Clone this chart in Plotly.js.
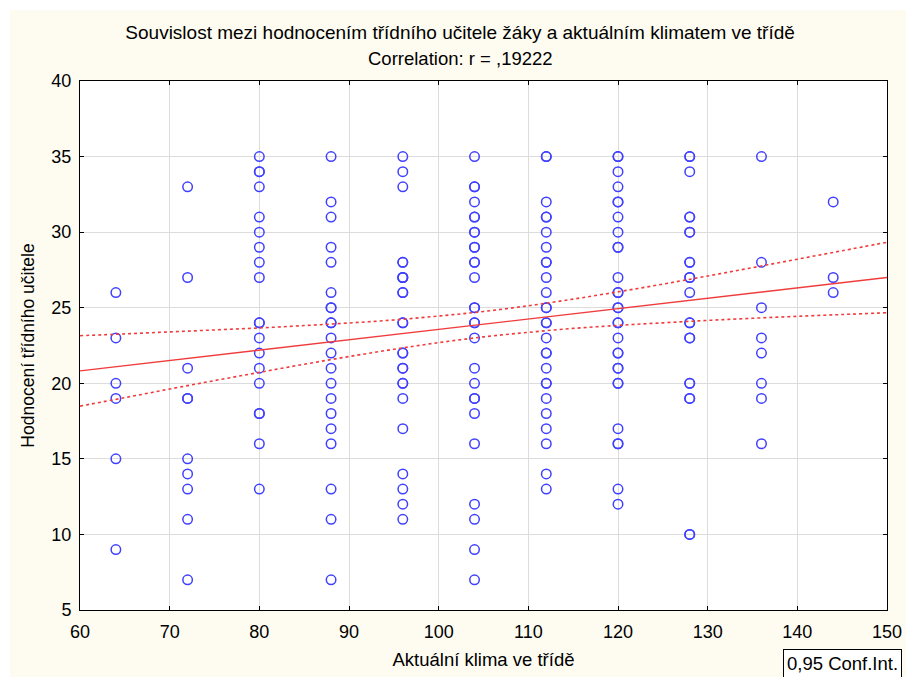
<!DOCTYPE html>
<html>
<head>
<meta charset="utf-8">
<script src="https://cdn.plot.ly/plotly-3.0.1.min.js"></script>
<style>
html,body{margin:0;padding:0;background:#ffffff;width:906px;height:677px;overflow:hidden;}
#chart{position:absolute;left:10px;top:10px;width:896px;height:667px;}
</style>
</head>
<body>
<div id="chart"></div>
<script>
// Column x positions (Aktuální klima ve třídě)
var climateLevels = [64, 72, 80, 88, 96, 104, 112, 120, 128, 136, 144];
// Teacher rating values per column (duplicates overlap in the picture)
var rating64  = [26, 23, 20, 19, 15, 9];
var rating72  = [33, 27, 21, 19, 19, 15, 14, 13, 11, 7];
var rating80  = [35, 34, 34, 33, 31, 30, 29, 28, 27, 24, 24, 23, 22, 21, 20, 18, 18, 16, 13];
var rating88  = [35, 32, 31, 29, 28, 26, 25, 25, 24, 24, 23, 22, 21, 20, 19, 18, 17, 16, 13, 11, 7];
var rating96  = [35, 34, 33, 28, 28, 27, 27, 27, 26, 26, 24, 24, 22, 22, 21, 21, 20, 20, 19, 17, 14, 13, 12, 11];
var rating104 = [35, 33, 33, 32, 31, 31, 30, 30, 29, 29, 28, 28, 27, 25, 25, 24, 24, 23, 21, 20, 19, 19, 18, 16, 12, 11, 9, 7];
var rating112 = [35, 35, 32, 31, 31, 30, 29, 28, 28, 27, 26, 25, 25, 24, 24, 23, 22, 22, 21, 20, 20, 19, 18, 17, 16, 14, 13];
var rating120 = [35, 35, 34, 33, 32, 32, 31, 30, 29, 29, 27, 26, 26, 25, 25, 24, 24, 23, 22, 22, 21, 21, 20, 20, 17, 16, 16, 13, 12];
var rating128 = [35, 35, 34, 31, 31, 30, 30, 28, 28, 27, 27, 26, 24, 24, 23, 23, 20, 20, 19, 19, 10, 10];
var rating136 = [35, 28, 25, 23, 22, 20, 19, 16];
var rating144 = [32, 27, 26];
var ratingsByColumn = [rating64, rating72, rating80, rating88, rating96, rating104, rating112, rating120, rating128, rating136, rating144];

// Regression line and 0.95 confidence band
var fitX = [60, 150];
var fitY = [20.82, 27.0];
var ciX     = [60, 65, 70, 75, 80, 85, 90, 95, 100, 105, 110, 115, 120, 125, 130, 135, 140, 145, 150];
var ciUpper = [23.15, 23.27, 23.40, 23.53, 23.66, 23.82, 23.99, 24.19, 24.45, 24.75, 25.13, 25.57, 26.05, 26.56, 27.10, 27.65, 28.21, 28.77, 29.33];
var ciLower = [18.49, 19.05, 19.62, 20.18, 20.72, 21.26, 21.77, 22.25, 22.69, 23.07, 23.37, 23.63, 23.83, 24.00, 24.16, 24.30, 24.43, 24.55, 24.67];

var xTickVals = [60, 70, 80, 90, 100, 110, 120, 130, 140, 150];
var yTickVals = [5, 10, 15, 20, 25, 30, 35, 40];

var titleText = "Souvislost mezi hodnocením třídního učitele žáky a aktuálním klimatem ve třídě";
var subtitleText = "Correlation: r = ,19222";
var xTitle = "Aktuální klima ve třídě";
var yTitle = "Hodnocení třídního učitele";
var legendText = "0,95 Conf.Int.";

var px = [], py = [];
climateLevels.forEach(function(xv, i){
  ratingsByColumn[i].forEach(function(yv){ px.push(xv); py.push(yv); });
});

var red = "#f03c3c";
var blue = "rgb(64,64,255)";
var font = "Liberation Sans, Arial, sans-serif";

var traces = [
  {x: px, y: py, type: "scatter", mode: "markers", hoverinfo: "x+y",
   marker: {symbol: "circle-open", size: 9.5, color: blue, line: {width: 1.5, color: blue}}, showlegend: false},
  {x: fitX, y: fitY, type: "scatter", mode: "lines", line: {color: red, width: 1.4}, showlegend: false},
  {x: ciX, y: ciUpper, type: "scatter", mode: "lines", line: {color: red, width: 1.6, dash: "dot", shape: "spline"}, showlegend: false},
  {x: ciX, y: ciLower, type: "scatter", mode: "lines", line: {color: red, width: 1.6, dash: "dot", shape: "spline"}, showlegend: false}
];

var layout = {
  width: 896, height: 667,
  paper_bgcolor: "#fefcf0",
  plot_bgcolor: "#ffffff",
  margin: {l: 70, r: 19, t: 71, b: 67, pad: 0},
  font: {family: font, color: "#000"},
  title: {text: titleText, font: {size: 19, family: font, color: "#000"},
          xref: "paper", x: 0.471, xanchor: "center", yref: "container", y: 1 - 22/667, yanchor: "middle"},
  xaxis: {range: [60, 150], tickvals: xTickVals, ticks: "inside", ticklen: 4, tickcolor: "#000",
          showline: true, linecolor: "#000", linewidth: 1, mirror: "ticks",
          showgrid: true, gridcolor: "#dcdcdc", gridwidth: 1, zeroline: false,
          tickfont: {size: 18}, ticklabelstandoff: 5,
          title: {text: xTitle, font: {size: 18.5}, standoff: 12}},
  yaxis: {range: [5, 40], tickvals: yTickVals, ticks: "inside", ticklen: 4, tickcolor: "#000",
          showline: true, linecolor: "#000", linewidth: 1, mirror: "ticks",
          showgrid: true, gridcolor: "#dcdcdc", gridwidth: 1, zeroline: false,
          tickfont: {size: 18}, ticklabelstandoff: 4,
          title: {text: yTitle, font: {size: 17.5}, standoff: 12}},
  annotations: [
    {text: subtitleText, xref: "paper", yref: "paper", x: 0.471, y: (610 - 58) / 529,
     xanchor: "center", yanchor: "middle", showarrow: false, font: {size: 18.5}},
    {text: legendText, xref: "paper", yref: "paper", x: (783 - 80) / 807, y: -(663 - 610) / 529,
     xanchor: "left", yanchor: "middle", showarrow: false, font: {size: 18.5},
     bordercolor: "#000", borderwidth: 1, borderpad: 3, bgcolor: "#ffffff"}
  ]
};

Plotly.newPlot("chart", traces, layout, {displayModeBar: false, staticPlot: true});
</script>
</body>
</html>
